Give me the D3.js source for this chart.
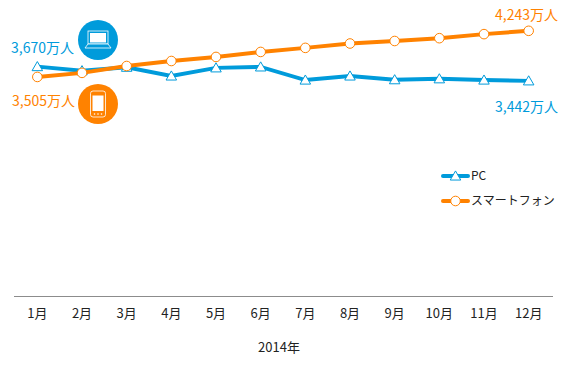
<!DOCTYPE html>
<html>
<head>
<meta charset="utf-8">
<script src="https://cdn.jsdelivr.net/npm/d3@7"></script>
<style>
  body { margin: 0; background: #fff; }
  text { font-family: "Noto Sans CJK JP", "Noto Sans", sans-serif; }
  .axis text { font-size: 13px; fill: #222; }
</style>
</head>
<body>
<script>
const months = ['1月', '2月', '3月', '4月', '5月', '6月', '7月', '8月', '9月', '10月', '11月', '12月'];
const pcValues = [3670, 3605, 3660, 3520, 3650, 3665, 3455, 3520, 3460, 3475, 3455, 3442];
const phoneValues = [3505, 3570, 3680, 3760, 3825, 3905, 3970, 4040, 4080, 4125, 4190, 4243];
const xTitle = '2014年';
const pcName = 'PC';
const phoneName = 'スマートフォン';

const WIDTH = 568;
const HEIGHT = 378;
const BLUE = '#009bdb';
const ORANGE = '#ff8200';

var svg = d3.select('body').append('svg')
    .attr('width', WIDTH)
    .attr('height', HEIGHT);

var xScale = d3.scaleBand()
    .domain(months)
    .range([15, 551]);

var yScale = d3.scaleLinear()
    .domain([0, 5000])
    .range([296, -16.5]);

var xPos = function(i) { return xScale(months[i]) + xScale.bandwidth() / 2; };

var xAxis = d3.axisBottom(xScale).tickSize(0).tickPadding(13);

var axisG = svg.append('g')
    .attr('class', 'axis')
    .attr('transform', 'translate(0,296)')
    .call(xAxis);
axisG.select('.domain').remove();
// the baseline runs a little past the bands
axisG.append('line')
    .attr('x1', 14)
    .attr('x2', 553)
    .attr('y1', 0.5)
    .attr('y2', 0.5)
    .attr('stroke', '#8c8c8c')
    .attr('stroke-width', 1);

svg.append('text')
    .attr('x', 279)
    .attr('y', 352)
    .attr('text-anchor', 'middle')
    .attr('font-size', 13)
    .attr('fill', '#222')
    .text(xTitle);

var line = d3.line()
    .x(function(d, i) { return xPos(i); })
    .y(function(d) { return yScale(d); });

var triangle = d3.symbol().type(d3.symbolTriangle).size(48);

var drawTriangle = function(g, x, y) {
  g.append('path')
      .attr('d', triangle())
      .attr('transform', 'translate(' + x + ',' + (y + 1) + ')')
      .attr('fill', '#fff')
      .attr('stroke', BLUE)
      .attr('stroke-width', 1);
};

var drawCircle = function(g, x, y) {
  g.append('circle')
      .attr('cx', x)
      .attr('cy', y)
      .attr('r', 4.8)
      .attr('fill', '#fff')
      .attr('stroke', ORANGE)
      .attr('stroke-width', 1);
};

// pc goes first, the orange line sits on top of it
svg.append('path')
    .attr('d', line(pcValues))
    .attr('fill', 'none')
    .attr('stroke', BLUE)
    .attr('stroke-width', 4);
var pcMarks = svg.append('g');
pcValues.forEach(function(d, i) { drawTriangle(pcMarks, xPos(i), yScale(d)); });

svg.append('path')
    .attr('d', line(phoneValues))
    .attr('fill', 'none')
    .attr('stroke', ORANGE)
    .attr('stroke-width', 4);
var phoneMarks = svg.append('g');
phoneValues.forEach(function(d, i) { drawCircle(phoneMarks, xPos(i), yScale(d)); });

var label = function(x, y, anchor, color, value) {
  svg.append('text')
      .attr('x', x)
      .attr('y', y)
      .attr('text-anchor', anchor)
      .attr('font-size', 14)
      .attr('fill', color)
      .text(d3.format(',')(value) + '万人');
};

label(74, 53, 'end', BLUE, pcValues[0]);
label(75, 106, 'end', ORANGE, phoneValues[0]);
label(558, 20, 'end', ORANGE, phoneValues[11]);
label(558, 112, 'end', BLUE, pcValues[11]);

// laptop icon
var laptop = svg.append('g').attr('transform', 'translate(98,40)');
laptop.append('circle').attr('r', 20).attr('fill', BLUE);
laptop.append('rect')
    .attr('x', -10).attr('y', -9).attr('width', 20).attr('height', 13)
    .attr('fill', BLUE).attr('stroke', '#fff').attr('stroke-width', 0.8);
laptop.append('rect')
    .attr('x', -8).attr('y', -7).attr('width', 16).attr('height', 9.5)
    .attr('fill', '#fff');
laptop.append('path')
    .attr('d', 'M-10,4L10,4L13,8L-13,8Z')
    .attr('fill', BLUE).attr('stroke', '#fff').attr('stroke-width', 0.8);

// phone icon
var phone = svg.append('g').attr('transform', 'translate(98,104)');
phone.append('circle').attr('r', 20).attr('fill', ORANGE);
phone.append('rect')
    .attr('x', -7.5).attr('y', -13).attr('width', 15).attr('height', 26).attr('rx', 2.5)
    .attr('fill', ORANGE).attr('stroke', '#fff').attr('stroke-width', 0.8);
phone.append('rect')
    .attr('x', -5.5).attr('y', -8.5).attr('width', 11).attr('height', 15.5)
    .attr('fill', '#fff');
phone.selectAll('.dot').data([-3.5, 0, 3.5]).enter().append('circle')
    .attr('cx', function(d) { return d; })
    .attr('cy', 10)
    .attr('r', 0.8)
    .attr('fill', '#fff');

// legend
var legend = svg.append('g');
var legendRow = function(y, color, name, mark) {
  legend.append('line')
      .attr('x1', 443).attr('x2', 468)
      .attr('y1', y).attr('y2', y)
      .attr('stroke', color)
      .attr('stroke-width', 4)
      .attr('stroke-linecap', 'round');
  mark(legend, 455.5, y);
  legend.append('text')
      .attr('x', 471)
      .attr('y', y + 4)
      .attr('font-size', 12)
      .attr('fill', '#222')
      .text(name);
};
legendRow(176, BLUE, pcName, drawTriangle);
legendRow(201, ORANGE, phoneName, drawCircle);
</script>
</body>
</html>
